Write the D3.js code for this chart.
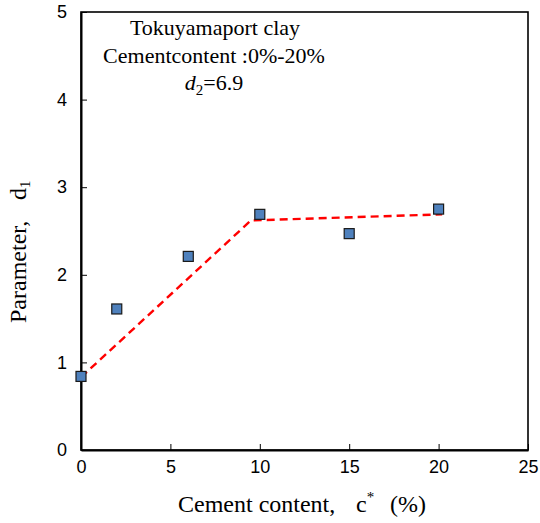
<!DOCTYPE html>
<html>
<head>
<meta charset="utf-8">
<script src="https://cdn.jsdelivr.net/npm/d3@7"></script>
<style>
  body { margin: 0; background: #fff; }
  svg { display: block; }
  text { white-space: pre; }
</style>
</head>
<body>
<svg id="chart" width="540" height="523"></svg>
<script>
// Measured points: cement content (%) vs parameter d1
const cement = [0, 2, 6, 10, 15, 20];
const d1 = [0.84, 1.61, 2.21, 2.69, 2.47, 2.75];

// Bilinear fit (dashed red)
const fitX = [0, 9.5, 20.2];
const fitY = [0.83, 2.62, 2.69];

const xTicks = [0, 5, 10, 15, 20, 25];
const yTicks = [0, 1, 2, 3, 4, 5];

const sans = "'Liberation Sans', Arial, sans-serif";
const serif = "'Liberation Serif', 'Times New Roman', serif";

const svg = d3.select("#chart");
const x = d3.scaleLinear().domain([0, 25]).range([81, 528]);
const y = d3.scaleLinear().domain([0, 5]).range([450, 12]);

// Plot frame
svg.append("rect")
  .attr("x", x(0)).attr("y", y(5))
  .attr("width", x(25) - x(0)).attr("height", y(0) - y(5))
  .attr("fill", "none").attr("stroke", "#000").attr("stroke-width", 1.6);

// Axes with inward ticks
const xAxis = d3.axisBottom(x).tickValues(xTicks).tickFormat(d3.format("d"))
  .tickSizeInner(-6).tickSizeOuter(0).tickPadding(10);
const yAxis = d3.axisLeft(y).tickValues(yTicks).tickFormat(d3.format("d"))
  .tickSizeInner(-6).tickSizeOuter(0).tickPadding(14);

const gx = svg.append("g").attr("transform", `translate(0,${y(0)})`).call(xAxis);
const gy = svg.append("g").attr("transform", `translate(${x(0)},0)`).call(yAxis);

[gx, gy].forEach(g => {
  g.attr("font-family", sans).attr("font-size", 18);
  g.select(".domain").attr("stroke", "#000").attr("stroke-width", 2);
  g.selectAll(".tick line").attr("stroke", "#000").attr("stroke-width", 1);
  g.selectAll(".tick text").attr("fill", "#000");
});

// Fit line
const line = d3.line().x(d => x(d[0])).y(d => y(d[1]));
svg.append("path")
  .datum(fitX.map((v, i) => [v, fitY[i]]))
  .attr("d", line)
  .attr("fill", "none")
  .attr("stroke", "#ff0000")
  .attr("stroke-width", 2.4)
  .attr("stroke-dasharray", "8,5");

// Markers
const s = 10;
svg.append("g").selectAll("rect")
  .data(cement.map((c, i) => [c, d1[i]]))
  .join("rect")
  .attr("x", d => x(d[0]) - s / 2)
  .attr("y", d => y(d[1]) - s / 2)
  .attr("width", s)
  .attr("height", s)
  .attr("fill", "#4f81bd")
  .attr("stroke", "#1a1a1a")
  .attr("stroke-width", 1.2);

// Annotation
const ann = svg.append("g")
  .style("font-family", serif).style("font-size", "22px")
  .attr("fill", "#000").attr("text-anchor", "middle");
ann.append("text").attr("x", 215).attr("y", 35).text("Tokuyamaport clay");
ann.append("text").attr("x", 214).attr("y", 62.5).text("Cementcontent :0%-20%");
const d2t = ann.append("text").attr("x", 214).attr("y", 90);
d2t.append("tspan").style("font-style", "italic").text("d");
d2t.append("tspan").style("font-size", "15px").attr("dy", 5).text("2");
d2t.append("tspan").attr("dy", -5).text("=6.9");

// Axis titles
const xt = svg.append("text")
  .attr("y", 512)
  .style("font-family", serif).style("font-size", "24px").attr("fill", "#000");
xt.append("tspan").attr("x", 178).text("Cement content,");
xt.append("tspan").attr("x", 356).text("c");
xt.append("tspan").style("font-size", "15px").attr("dy", -10).text("*");
xt.append("tspan").attr("x", 390).attr("dy", 10).text("(%)");

const yt = svg.append("text")
  .attr("transform", "translate(25.5,0) rotate(-90)")
  .style("font-family", serif).style("font-size", "24px").attr("fill", "#000");
yt.append("tspan").attr("x", -323).text("Parameter,");
yt.append("tspan").attr("x", -200).text("d");
yt.append("tspan").style("font-size", "15px").attr("dy", 4).text("1");
</script>
</body>
</html>
